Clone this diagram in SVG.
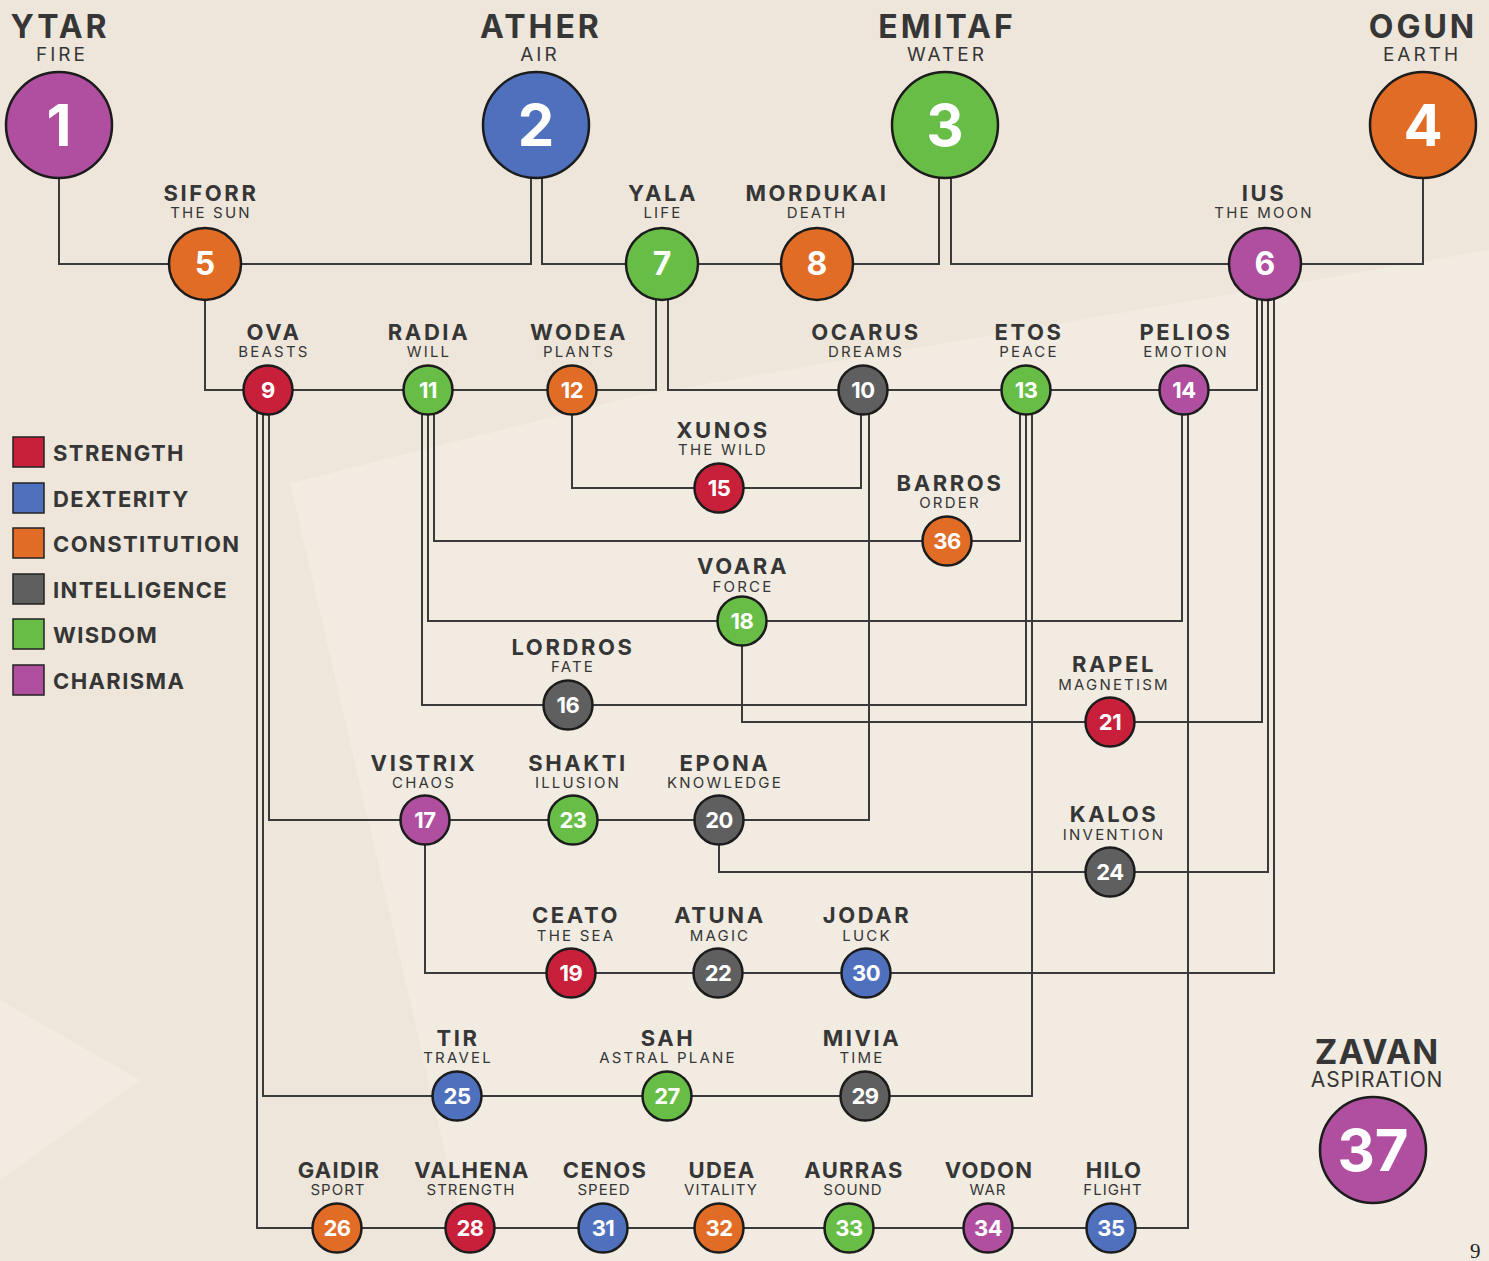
<svg xmlns="http://www.w3.org/2000/svg" width="1489" height="1261" viewBox="0 0 1489 1261">
<style>
.ln{fill:none;stroke:#3a3a3a;stroke-width:2}
.c{stroke:#1c1c1c;stroke-width:2.5}
.str{fill:#c8203a}.dex{fill:#4f70bd}.con{fill:#e06c26}.int{fill:#5f5f5f}.wis{fill:#67bd45}.cha{fill:#b04fa0}
text{font-family:Inter,'Liberation Sans',sans-serif;fill:#363636;text-anchor:middle}
.t1{font-size:32px;font-weight:700;letter-spacing:3px}
.s1{font-size:19px;font-weight:400;letter-spacing:3px}
.t2{font-size:22px;font-weight:700;letter-spacing:2.6px}
.s2{font-size:15px;font-weight:400;letter-spacing:2.2px}
.t3{font-size:22px;font-weight:700;letter-spacing:1.3px}
.s3{font-size:15px;font-weight:400;letter-spacing:1px}
.n{fill:#fff;font-weight:700}
.n1{font-size:58px}.n2{font-size:32px}.n3{font-size:22px;letter-spacing:-0.5px}
.lg{font-size:22px;font-weight:700;letter-spacing:1.4px;text-anchor:start}
</style>
<rect width="1489" height="1261" fill="#eee6da"/>
<g id="background" opacity="0.5">
<polygon points="290,483 640,395 1489,250 1489,1261 470,1261" fill="#f4efe7"/>
<polygon points="0,1000 140,1080 0,1180" fill="#f4efe7"/>
</g>
<g id="connectors">
<path class="ln" d="M59,178 V264 H205"/>
<path class="ln" d="M205,264 H531 V178"/>
<path class="ln" d="M542,178 V264 H817"/>
<path class="ln" d="M817,264 H939 V178"/>
<path class="ln" d="M951,178 V264 H1423 V178"/>
<path class="ln" d="M205,264 V390 H572"/>
<path class="ln" d="M572,390 H656 V264"/>
<path class="ln" d="M668,264 V390 H1184"/>
<path class="ln" d="M1184,390 H1257 V264"/>
<path class="ln" d="M572,390 V488 H861 V390"/>
<path class="ln" d="M434,390 V541 H1020 V390"/>
<path class="ln" d="M428,390 V621 H1182 V390"/>
<path class="ln" d="M422,390 V705 H1026 V390"/>
<path class="ln" d="M742,621 V722 H1262 V264"/>
<path class="ln" d="M269,390 V820 H869 V390"/>
<path class="ln" d="M719,820 V872 H1268 V264"/>
<path class="ln" d="M425,820 V973 H1274 V264"/>
<path class="ln" d="M263,390 V1096 H1032 V390"/>
<path class="ln" d="M257,390 V1228 H1188 V390"/>
</g>
<g id="legend">
<rect x="13" y="437" width="31" height="30" class="str" stroke="#222" stroke-width="1.5"/><text class="lg" x="53" y="461">STRENGTH</text>
<rect x="13" y="483" width="31" height="30" class="dex" stroke="#222" stroke-width="1.5"/><text class="lg" x="53" y="507">DEXTERITY</text>
<rect x="13" y="528" width="31" height="30" class="con" stroke="#222" stroke-width="1.5"/><text class="lg" x="53" y="552">CONSTITUTION</text>
<rect x="13" y="574" width="31" height="30" class="int" stroke="#222" stroke-width="1.5"/><text class="lg" x="53" y="598">INTELLIGENCE</text>
<rect x="13" y="619" width="31" height="30" class="wis" stroke="#222" stroke-width="1.5"/><text class="lg" x="53" y="643">WISDOM</text>
<rect x="13" y="665" width="31" height="30" class="cha" stroke="#222" stroke-width="1.5"/><text class="lg" x="53" y="689">CHARISMA</text>
</g>
<g id="n1"><text class="t1" x="60" y="38">YTAR</text><text class="s1" x="62" y="61">FIRE</text><circle class="c cha" cx="59" cy="125" r="53"/><text class="n n1" x="59" y="146">1</text></g>
<g id="n2"><text class="t1" x="541" y="38">ATHER</text><text class="s1" x="540" y="61">AIR</text><circle class="c dex" cx="536" cy="125" r="53"/><text class="n n1" x="536" y="146">2</text></g>
<g id="n3"><text class="t1" x="947" y="38">EMITAF</text><text class="s1" x="947" y="61">WATER</text><circle class="c wis" cx="945" cy="125" r="53"/><text class="n n1" x="945" y="146">3</text></g>
<g id="n4"><text class="t1" x="1423" y="38">OGUN</text><text class="s1" x="1422" y="61">EARTH</text><circle class="c con" cx="1423" cy="125" r="53"/><text class="n n1" x="1423" y="146">4</text></g>
<g id="n5"><text class="t2" x="211" y="201">SIFORR</text><text class="s2" x="211" y="218">THE SUN</text><circle class="c con" cx="205" cy="264" r="36"/><text class="n n2" x="205" y="275">5</text></g>
<g id="n6"><text class="t2" x="1264" y="201">IUS</text><text class="s2" x="1264" y="218">THE MOON</text><circle class="c cha" cx="1265" cy="264" r="36"/><text class="n n2" x="1265" y="275">6</text></g>
<g id="n7"><text class="t2" x="663" y="201">YALA</text><text class="s2" x="663" y="218">LIFE</text><circle class="c wis" cx="662" cy="264" r="36"/><text class="n n2" x="662" y="275">7</text></g>
<g id="n8"><text class="t2" x="817" y="201">MORDUKAI</text><text class="s2" x="817" y="218">DEATH</text><circle class="c con" cx="817" cy="264" r="36"/><text class="n n2" x="817" y="275">8</text></g>
<g id="n9"><text class="t2" x="274" y="340">OVA</text><text class="s2" x="274" y="357">BEASTS</text><circle class="c str" cx="268" cy="390" r="24.5"/><text class="n n3" x="268" y="398">9</text></g>
<g id="n11"><text class="t2" x="429" y="340">RADIA</text><text class="s2" x="429" y="357">WILL</text><circle class="c wis" cx="428" cy="390" r="24.5"/><text class="n n3" x="428" y="398">11</text></g>
<g id="n12"><text class="t2" x="579" y="340">WODEA</text><text class="s2" x="579" y="357">PLANTS</text><circle class="c con" cx="572" cy="390" r="24.5"/><text class="n n3" x="572" y="398">12</text></g>
<g id="n10"><text class="t2" x="866" y="340">OCARUS</text><text class="s2" x="866" y="357">DREAMS</text><circle class="c int" cx="863" cy="390" r="24.5"/><text class="n n3" x="863" y="398">10</text></g>
<g id="n13"><text class="t2" x="1029" y="340">ETOS</text><text class="s2" x="1029" y="357">PEACE</text><circle class="c wis" cx="1026" cy="390" r="24.5"/><text class="n n3" x="1026" y="398">13</text></g>
<g id="n14"><text class="t2" x="1186" y="340">PELIOS</text><text class="s2" x="1186" y="357">EMOTION</text><circle class="c cha" cx="1184" cy="390" r="24.5"/><text class="n n3" x="1184" y="398">14</text></g>
<g id="n15"><text class="t2" x="723" y="438">XUNOS</text><text class="s2" x="723" y="455">THE WILD</text><circle class="c str" cx="719" cy="488" r="24.5"/><text class="n n3" x="719" y="496">15</text></g>
<g id="n36"><text class="t2" x="950" y="491">BARROS</text><text class="s2" x="950" y="508">ORDER</text><circle class="c con" cx="947" cy="541" r="24.5"/><text class="n n3" x="947" y="549">36</text></g>
<g id="n18"><text class="t2" x="743" y="574">VOARA</text><text class="s2" x="743" y="592">FORCE</text><circle class="c wis" cx="742" cy="621" r="24.5"/><text class="n n3" x="742" y="629">18</text></g>
<g id="n16"><text class="t2" x="573" y="655">LORDROS</text><text class="s2" x="573" y="672">FATE</text><circle class="c int" cx="568" cy="705" r="24.5"/><text class="n n3" x="568" y="713">16</text></g>
<g id="n21"><text class="t2" x="1114" y="672">RAPEL</text><text class="s2" x="1114" y="690">MAGNETISM</text><circle class="c str" cx="1110" cy="722" r="24.5"/><text class="n n3" x="1110" y="730">21</text></g>
<g id="n17"><text class="t2" x="424" y="771">VISTRIX</text><text class="s2" x="424" y="788">CHAOS</text><circle class="c cha" cx="425" cy="820" r="24.5"/><text class="n n3" x="425" y="828">17</text></g>
<g id="n23"><text class="t2" x="578" y="771">SHAKTI</text><text class="s2" x="578" y="788">ILLUSION</text><circle class="c wis" cx="573" cy="820" r="24.5"/><text class="n n3" x="573" y="828">23</text></g>
<g id="n20"><text class="t2" x="725" y="771">EPONA</text><text class="s2" x="725" y="788">KNOWLEDGE</text><circle class="c int" cx="719" cy="820" r="24.5"/><text class="n n3" x="719" y="828">20</text></g>
<g id="n24"><text class="t2" x="1114" y="822">KALOS</text><text class="s2" x="1114" y="840">INVENTION</text><circle class="c int" cx="1110" cy="872" r="24.5"/><text class="n n3" x="1110" y="880">24</text></g>
<g id="n19"><text class="t2" x="576" y="923">CEATO</text><text class="s2" x="576" y="941">THE SEA</text><circle class="c str" cx="571" cy="973" r="24.5"/><text class="n n3" x="571" y="981">19</text></g>
<g id="n22"><text class="t2" x="720" y="923">ATUNA</text><text class="s2" x="720" y="941">MAGIC</text><circle class="c int" cx="718" cy="973" r="24.5"/><text class="n n3" x="718" y="981">22</text></g>
<g id="n30"><text class="t2" x="867" y="923">JODAR</text><text class="s2" x="867" y="941">LUCK</text><circle class="c dex" cx="866" cy="973" r="24.5"/><text class="n n3" x="866" y="981">30</text></g>
<g id="n25"><text class="t2" x="458" y="1046">TIR</text><text class="s2" x="458" y="1063">TRAVEL</text><circle class="c dex" cx="457" cy="1096" r="24.5"/><text class="n n3" x="457" y="1104">25</text></g>
<g id="n27"><text class="t2" x="668" y="1046">SAH</text><text class="s2" x="668" y="1063">ASTRAL PLANE</text><circle class="c wis" cx="667" cy="1096" r="24.5"/><text class="n n3" x="667" y="1104">27</text></g>
<g id="n29"><text class="t2" x="862" y="1046">MIVIA</text><text class="s2" x="862" y="1063">TIME</text><circle class="c int" cx="865" cy="1096" r="24.5"/><text class="n n3" x="865" y="1104">29</text></g>
<g id="n26"><text class="t3" x="339" y="1178">GAIDIR</text><text class="s3" x="338" y="1195">SPORT</text><circle class="c con" cx="337" cy="1228" r="24.5"/><text class="n n3" x="337" y="1236">26</text></g>
<g id="n28"><text class="t3" x="472" y="1178">VALHENA</text><text class="s3" x="471" y="1195">STRENGTH</text><circle class="c str" cx="470" cy="1228" r="24.5"/><text class="n n3" x="470" y="1236">28</text></g>
<g id="n31"><text class="t3" x="605" y="1178">CENOS</text><text class="s3" x="604" y="1195">SPEED</text><circle class="c dex" cx="603" cy="1228" r="24.5"/><text class="n n3" x="603" y="1236">31</text></g>
<g id="n32"><text class="t3" x="722" y="1178">UDEA</text><text class="s3" x="721" y="1195">VITALITY</text><circle class="c con" cx="719" cy="1228" r="24.5"/><text class="n n3" x="719" y="1236">32</text></g>
<g id="n33"><text class="t3" x="854" y="1178">AURRAS</text><text class="s3" x="853" y="1195">SOUND</text><circle class="c wis" cx="849" cy="1228" r="24.5"/><text class="n n3" x="849" y="1236">33</text></g>
<g id="n34"><text class="t3" x="989" y="1178">VODON</text><text class="s3" x="988" y="1195">WAR</text><circle class="c cha" cx="988" cy="1228" r="24.5"/><text class="n n3" x="988" y="1236">34</text></g>
<g id="n35"><text class="t3" x="1114" y="1178">HILO</text><text class="s3" x="1113" y="1195">FLIGHT</text><circle class="c dex" cx="1111" cy="1228" r="24.5"/><text class="n n3" x="1111" y="1236">35</text></g>
<g id="n37"><text x="1377" y="1064" style="font-size:34px;font-weight:700;letter-spacing:1px">ZAVAN</text><text x="1377" y="1087" style="font-size:21px;letter-spacing:0.8px">ASPIRATION</text><circle class="c cha" cx="1373" cy="1150" r="53"/><text class="n n1" x="1373" y="1171">37</text></g>
<text x="1470" y="1258" style="font-family:'Liberation Serif',serif;font-size:21px;text-anchor:start;fill:#222">9</text>
</svg>
